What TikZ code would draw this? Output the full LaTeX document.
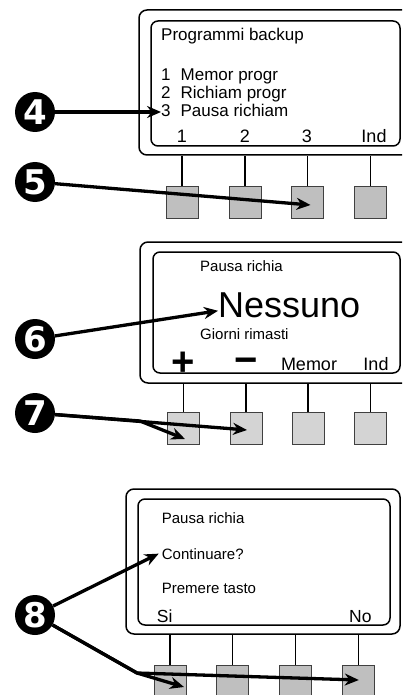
\documentclass[tikz,border=0pt]{standalone}
\usepackage{fontspec}
\setmainfont{Liberation Sans}
\newfontfamily\digitfont{DejaVu Sans}
\usetikzlibrary{arrows.meta,fit}

\begin{document}
\begin{tikzpicture}[x=1pt,y=-1pt,>={Stealth[length=14pt,width=12pt]},
case/.style={draw,line width=1.5pt,rounded corners=8pt,inner sep=0pt},
lcd/.style={draw,line width=1.5pt,rounded corners=7pt,inner sep=0pt},
key/.style={draw=black!75,line width=0.9pt,minimum size=32pt,inner sep=0pt},
stem/.style={line width=1.2pt},
txt/.style={inner sep=0pt,anchor=base west},
lbl/.style={inner sep=0pt,anchor=base,font=\fontsize{18}{20}\selectfont},
num/.style={circle,fill=black,text=white,minimum size=40pt,inner sep=0pt,font=\digitfont\bfseries\fontsize{34}{34}\selectfont},
arr/.style={->,line width=3.3pt,line join=round}]
\clip(0,0)rectangle(402,695);
\node[case,fit={(139,10)(414,155)}](c1){};
\node[lcd,fit={(151,21)(400,146)}](s1){};
\node[txt,font=\fontsize{17}{20}\selectfont](t11)at(161,41){Programmi backup};
\node[txt,font=\fontsize{17}{20}\selectfont](t12)at(161,81){1\hspace{10pt}Memor progr};
\node[txt,font=\fontsize{17}{20}\selectfont](t13)at(161,99){2\hspace{10pt}Richiam progr};
\node[txt,font=\fontsize{17}{20}\selectfont](t14)at(161,117){3\hspace{10pt}Pausa richiam};
\node[lbl](l11)at(182,143){1};
\node[lbl](l12)at(245,143){2};
\node[lbl](l13)at(307,143){3};
\node[lbl](l14)at(374,143){Ind};
\foreach \i/\x in {1/182,2/245,3/307.5,4/370.5}{
\node[key,fill=black!25](b1\i)at(\x,202){};
\draw[stem](b1\i.north)--(b1\i.north|-c1.south);}
\node[num](n4)at(35,112){4};
\node[num](n5)at(35,182){5};
\draw[arr](n4)--(n4-|t14.west);
\draw[arr](n5)--([shift={(3,3)}]b13.center);

\node[case,fit={(140,242)(414,383)}](c2){};
\node[lcd,fit={(153,252)(400,373)}](s2){};
\node[txt,font=\fontsize{15}{18}\selectfont](t21)at(200,271){Pausa richia};
\node[txt,font=\fontsize{36}{40}\selectfont](t22)at(218,317){Nessuno};
\node[txt,font=\fontsize{15}{18}\selectfont](t23)at(200,339){Giorni rimasti};
\node[lbl,font=\bfseries\fontsize{40}{40}\selectfont](l21)at(183,375){+};
\node[lbl,font=\bfseries\fontsize{40}{40}\selectfont](l22)at(246,373){−};
\node[lbl](l23)at(309,370){Memor};
\node[lbl](l24)at(376,370){Ind};
\foreach \i/\x in {1/183.5,2/246,3/308,4/370.5}{
\node[key,fill=black!17](b2\i)at(\x,428){};
\draw[stem](b2\i.north)--(b2\i.north|-c2.south);}
\node[num](n6)at(35,339){6};
\node[num](n7)at(35,413){7};
\coordinate(k7)at(140,421);
\draw[arr](n6)--([shift={(0,6)}]t22.west);
\draw[arr](n7)--(k7)--([shift={(1.5,11)}]b21.center);
\draw[arr](n7)--([shift={(1,2)}]b22.center);

\node[case,fit={(126,489)(400,634)}](c3){};
\node[lcd,fit={(138,499)(390,625)}](s3){};
\node[txt,font=\fontsize{15}{18}\selectfont](t31)at(161.7,523){Pausa richia};
\node[txt,font=\fontsize{15}{18}\selectfont](t32)at(161.7,559){Continuare?};
\node[txt,font=\fontsize{15}{18}\selectfont](t33)at(161.7,593){Premere tasto};
\node[txt,font=\fontsize{17.5}{20}\selectfont](l31)at(156.7,622){Si};
\node[txt,anchor=base east,font=\fontsize{17.5}{20}\selectfont](l32)at(371.7,622){No};
\foreach \i/\x in {1/170,2/232.8,3/295.8,4/358.8}{
\node[key,fill=black!25](b3\i)at(\x,681){};
\draw[stem](b3\i.north)--(b3\i.north|-c3.south);}
\node[num](n8)at(35,615){8};
\coordinate(k8)at(137,673);
\draw[arr](n8)--([shift={(-3,0)}]t32.west);
\draw[arr](n8)--(k8)--([shift={(14,6)}]b31.center);
\draw[arr](n8)--(k8)--([shift={(0,-1)}]b34.center);
\end{tikzpicture}
\end{document}
